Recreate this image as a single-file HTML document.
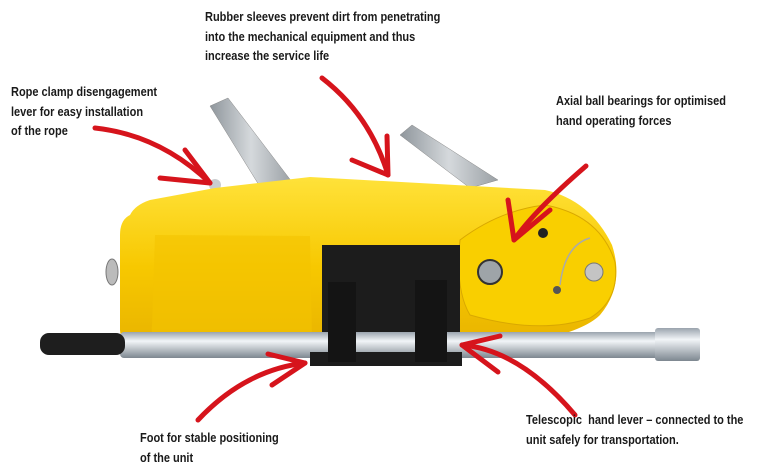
<!DOCTYPE html>
<html><head><style>
html,body{margin:0;padding:0;background:#fff;}
body{width:761px;height:465px;position:relative;overflow:hidden;}
.t{position:absolute;font-family:"Liberation Sans Narrow","Liberation Sans",sans-serif;font-weight:bold;font-size:12.5px;line-height:19.5px;color:#1a1a1a;white-space:nowrap;transform:scaleX(0.88);transform-origin:0 0;}
svg{position:absolute;left:0;top:0;}
</style></head><body>
<svg width="761" height="465" viewBox="0 0 761 465">
<defs>
<linearGradient id="y" x1="0" y1="0" x2="0" y2="1"><stop offset="0" stop-color="#ffe23a"/><stop offset="0.5" stop-color="#f7c800"/><stop offset="1" stop-color="#e6b000"/></linearGradient>
<linearGradient id="bar" x1="0" y1="0" x2="0" y2="1"><stop offset="0" stop-color="#9aa3ad"/><stop offset="0.35" stop-color="#f2f5f8"/><stop offset="1" stop-color="#7d8790"/></linearGradient>
<linearGradient id="arm" x1="0" y1="0" x2="1" y2="0"><stop offset="0" stop-color="#8f969c"/><stop offset="0.5" stop-color="#d5d9dc"/><stop offset="1" stop-color="#9aa0a5"/></linearGradient>
</defs>
<!-- arms -->
<polygon points="210,106 228,98 292,182 262,190" fill="url(#arm)" stroke="#888" stroke-width="0.5"/>
<polygon points="400,135 412,125 498,180 470,188" fill="url(#arm)" stroke="#888" stroke-width="0.5"/>
<circle cx="215" cy="185" r="6" fill="#c9cdd0"/>
<!-- body -->
<path d="M130,215 Q135,205 150,200 L215,188 L310,177 L545,190 Q590,200 612,245 Q625,285 600,315 Q585,330 540,340 L470,355 L150,358 Q122,355 120,330 L120,235 Q120,220 130,215 Z" fill="url(#y)"/>
<path d="M155,235 L310,236 L312,340 L160,340 Q150,338 152,325 Z" fill="#f3c300" opacity="0.6"/>
<path d="M460,240 Q500,210 545,205 Q600,215 615,262 Q620,300 590,318 Q540,335 470,315 Q455,290 460,240 Z" fill="#f9cf00" stroke="#d9a800" stroke-width="1"/>
<ellipse cx="112" cy="272" rx="6" ry="13" fill="#bbb" stroke="#777"/>
<circle cx="490" cy="272" r="12" fill="#9ea4a8" stroke="#333" stroke-width="2"/>
<circle cx="543" cy="233" r="5" fill="#222"/>
<circle cx="594" cy="272" r="9" fill="#c4c4c4" stroke="#777"/>
<path d="M560,285 Q565,245 590,238" fill="none" stroke="#aaa" stroke-width="1.5"/>
<circle cx="557" cy="290" r="4" fill="#555"/>
<!-- plate -->
<rect x="322" y="245" width="138" height="117" fill="#1c1c1c"/>
<!-- bar -->
<rect x="120" y="332" width="570" height="26" rx="4" fill="url(#bar)"/>
<rect x="655" y="328" width="45" height="33" rx="3" fill="url(#bar)"/>
<rect x="40" y="333" width="85" height="22" rx="9" fill="#1e1e1e"/>
<rect x="310" y="352" width="152" height="14" fill="#1c1c1c"/>
<rect x="328" y="282" width="28" height="80" fill="#141414"/>
<rect x="415" y="280" width="32" height="82" fill="#141414"/>
<!-- arrows -->
<g fill="none" stroke="#d6141c" stroke-width="5" stroke-linecap="round" stroke-linejoin="round">
<path d="M95,128 Q160,135 210,183"/><path d="M185,150 L210,183 L160,178"/>
<path d="M322,78 Q370,115 388,175"/><path d="M352,160 L388,175 L387,136"/>
<path d="M586,166 Q535,210 514,240"/><path d="M508,200 L514,240 L550,210"/>
<path d="M198,420 Q245,370 305,363"/><path d="M268,354 L305,363 L272,385"/>
<path d="M575,415 Q520,350 462,345"/><path d="M500,336 L462,345 L498,372"/>
</g>
</svg>
<div class="t" style="left:205px;top:8px;">Rubber sleeves prevent dirt from penetrating<br>into the mechanical equipment and thus<br>increase the service life</div>
<div class="t" style="left:11px;top:83px;">Rope clamp disengagement<br>lever for easy installation<br>of the rope</div>
<div class="t" style="left:556px;top:92px;">Axial ball bearings for optimised<br>hand operating forces</div>
<div class="t" style="left:526px;top:411px;">Telescopic&nbsp; hand lever – connected to the<br>unit safely for transportation.</div>
<div class="t" style="left:140px;top:429px;">Foot for stable positioning<br>of the unit</div>
</body></html>
